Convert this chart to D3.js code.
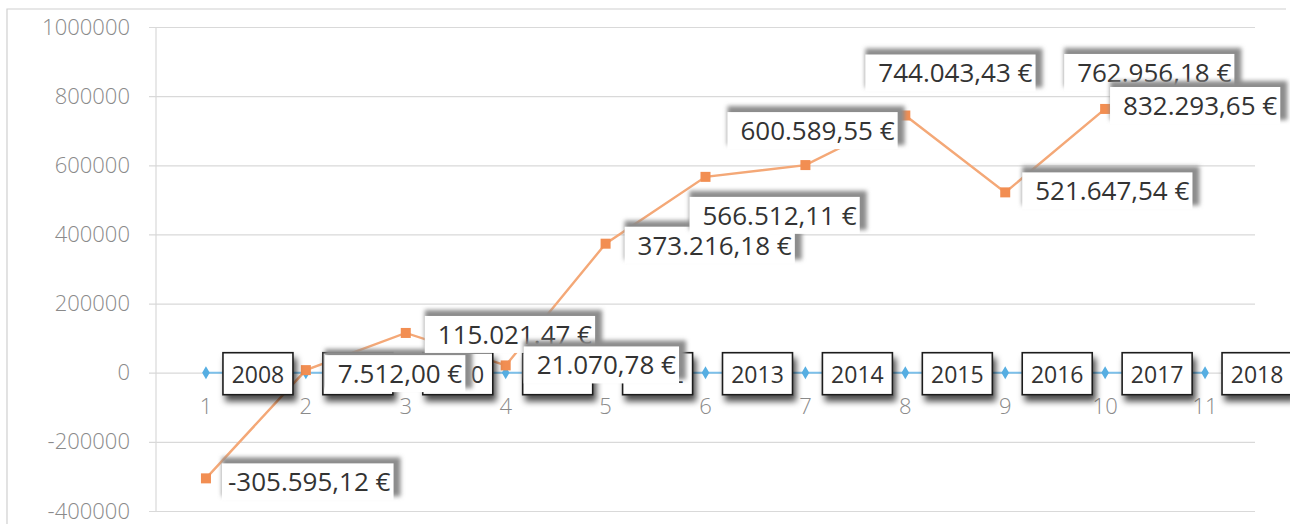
<!DOCTYPE html>
<html>
<head>
<meta charset="utf-8">
<script src="https://cdn.jsdelivr.net/npm/d3@7"></script>
<style>
  body { margin: 0; background: #fff; }
  svg { display: block; }
</style>
</head>
<body>
<svg id="drawing_region"></svg>
<script>
// category axis (1..11) and the year label of each point
const categories = ["1", "2", "3", "4", "5", "6", "7", "8", "9", "10", "11"];
const years = ["2008", "2009", "2010", "2011", "2012", "2013", "2014", "2015", "2016", "2017", "2018"];

// series 1: the year series, all on zero
const yearValues = [0, 0, 0, 0, 0, 0, 0, 0, 0, 0, 0];

// series 2: yearly result in euro
const resultValues = [-305595.12, 7512.00, 115021.47, 21070.78, 373216.18, 566512.11,
                      600589.55, 744043.43, 521647.54, 762956.18, 832293.65];
const resultLabels = ["-305.595,12 €", "7.512,00 €", "115.021.47 €", "21.070,78 €", "373.216,18 €",
                      "566.512,11 €", "600.589,55 €", "744.043,43 €", "521.647,54 €", "762.956,18 €",
                      "832.293,65 €"];

const yTicks = [-400000, -200000, 0, 200000, 400000, 600000, 800000, 1000000];

class ResultChart {

    constructor( config ) {
        this.config = {
            parent: config.parent,
            width: config.width || 1290,
            height: config.height || 524,
            left: 156, right: 1255, top: 27, bottom: 511
        };
        // manual offsets of the orange labels (text start / middle), px from the point
        this.labelOffsets = [[22,3],[32,3],[32,1],[31,-1],[32,1],[-3,38],[-65,-35],[-27,-43],[30,-2],[-28,-37],[-82,20]];
        this.init();
    }

    init() {
        let self = this;
        self.svg = d3.select( self.config.parent )
            .attr( 'width', self.config.width )
            .attr( 'height', self.config.height );

        const defs = self.svg.append('defs');
        defs.append('filter').attr('id', 'yearShadow')
            .attr('x', '-20%').attr('y', '-20%').attr('width', '150%').attr('height', '170%')
            .append('feDropShadow')
            .attr('dx', 3).attr('dy', 6).attr('stdDeviation', 3)
            .attr('flood-color', '#000').attr('flood-opacity', 0.7);
        defs.append('filter').attr('id', 'blur')
            .attr('x', '-10%').attr('y', '-30%').attr('width', '120%').attr('height', '160%')
            .append('feGaussianBlur')
            .attr('stdDeviation', 2.2);

        self.xscale = d3.scaleBand()
            .domain( categories )
            .range( [self.config.left, self.config.right] );
        self.yscale = d3.scaleLinear()
            .domain( [-400000, 1000000] )
            .range( [self.config.bottom, self.config.top] );
    }

    update() {
        this.render();
    }

    render() {
        let self = this;
        const cx = i => self.xscale( categories[i] ) + self.xscale.bandwidth() / 2;
        const c = self.config;

        // chart area border (top and left visible)
        self.svg.append('path')
            .attr('d', `M7,${c.height} V9 H1286`)
            .attr('fill', 'none').attr('stroke', '#d0d0d0').attr('stroke-width', 1.2);

        // y axis with gridlines
        const yaxis = d3.axisLeft( self.yscale )
            .tickValues( yTicks )
            .tickSize( -(c.right - c.left) )
            .tickPadding( 26 )
            .tickFormat( d => d );
        const yg = self.svg.append('g')
            .attr('transform', `translate(${c.left},0)`)
            .call( yaxis );
        yg.select('.domain').remove();
        yg.selectAll('.tick line')
            .attr('x1', -7)
            .attr('stroke', '#d9d9d9').attr('stroke-width', 1.2);
        yg.selectAll('.tick text')
            .attr('font-family', '"Open Sans", sans-serif')
            .attr('font-weight', 300)
            .attr('font-size', 22)
            .attr('fill', '#8a8a8a');
        self.svg.append('line')
            .attr('x1', c.left).attr('x2', c.left)
            .attr('y1', c.top).attr('y2', c.bottom)
            .attr('stroke', '#d9d9d9').attr('stroke-width', 1.2);

        // category axis labels under the zero line
        const xaxis = d3.axisBottom( self.xscale ).tickSize( 0 ).tickPadding( 26 );
        const xg = self.svg.append('g')
            .attr('transform', `translate(0,${self.yscale(0)})`)
            .call( xaxis );
        xg.select('.domain').remove();
        xg.selectAll('.tick text')
            .attr('font-family', '"Open Sans", sans-serif')
            .attr('font-weight', 300)
            .attr('font-size', 22)
            .attr('fill', '#8a8a8a');

        // series 1: years on zero
        const yearLine = d3.line()
            .x( (d, i) => cx(i) )
            .y( d => self.yscale( d ) );
        self.svg.append('path')
            .attr('d', yearLine( yearValues ))
            .attr('fill', 'none').attr('stroke', '#7cc0ea').attr('stroke-width', 2);
        self.svg.selectAll('.diamond')
            .data( yearValues )
            .enter()
            .append('path')
            .attr('class', 'diamond')
            .attr('d', d3.symbol().type( d3.symbolDiamond ).size( 50 ))
            .attr('transform', (d, i) => `translate(${cx(i)},${self.yscale(d)})`)
            .attr('fill', '#56aee2');

        // series 2: results
        const resultLine = d3.line()
            .x( (d, i) => cx(i) )
            .y( d => self.yscale( d ) );
        self.svg.append('path')
            .attr('d', resultLine( resultValues ))
            .attr('fill', 'none').attr('stroke', '#f4a877').attr('stroke-width', 2.4);
        self.svg.selectAll('.square')
            .data( resultValues )
            .enter()
            .append('rect')
            .attr('class', 'square')
            .attr('x', (d, i) => cx(i) - 5)
            .attr('y', d => self.yscale( d ) - 5)
            .attr('width', 10).attr('height', 10)
            .attr('fill', '#f28e52');

        // year labels (series 1)
        const yl = self.svg.selectAll('.yearLabel')
            .data( yearValues )
            .enter()
            .append('g')
            .attr('class', 'yearLabel')
            .attr('transform', (d, i) => `translate(${cx(i)},${self.yscale(d)})`);
        yl.append('rect')
            .attr('x', 17).attr('y', -20)
            .attr('width', 70).attr('height', 42)
            .attr('fill', '#fff')
            .attr('stroke', '#1e1e1e').attr('stroke-width', 1.6)
            .attr('filter', 'url(#yearShadow)');
        yl.append('text')
            .attr('x', 52).attr('y', 1)
            .attr('text-anchor', 'middle')
            .attr('dominant-baseline', 'central')
            .attr('font-family', '"Open Sans", sans-serif')
            .attr('font-size', 23)
            .attr('fill', '#333')
            .text( (d, i) => years[i] );

        // value labels (series 2), white box with a grey shadow up and right
        resultValues.forEach( (v, i) => {
            const off = self.labelOffsets[i];
            const g = self.svg.append('g')
                .attr('transform', `translate(${cx(i) + off[0]},${self.yscale(v) + off[1]})`);
            const shadow = g.append('rect')
                .attr('fill', '#8c8c8c')
                .attr('filter', 'url(#blur)');
            const box = g.append('rect')
                .attr('fill', '#fff');
            const t = g.append('text')
                .attr('x', 0).attr('y', 0)
                .attr('dominant-baseline', 'central')
                .attr('font-family', '"Open Sans", sans-serif')
                .attr('font-weight', 500)
                .attr('font-size', 26)
                .attr('fill', '#333')
                .text( resultLabels[i] );
            const bb = t.node().getBBox();
            const w = bb.width + 16;
            const padL = i === 0 ? 6 : 13;
            box.attr('x', -padL).attr('y', -18).attr('width', w - 13 + padL).attr('height', 37);
            shadow.attr('x', -padL).attr('y', -24).attr('width', w - 13 + padL + 7).attr('height', 39);
        });
    }
}

const chart = new ResultChart({ parent: '#drawing_region', width: 1290, height: 524 });
chart.update();
</script>
</body>
</html>
